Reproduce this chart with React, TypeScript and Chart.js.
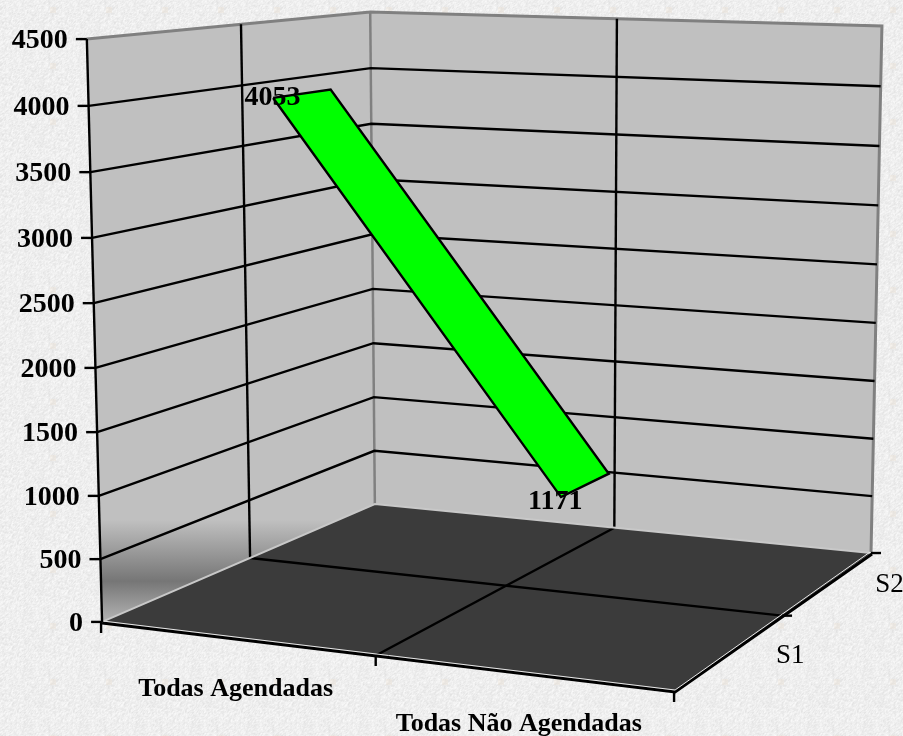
import React, { useEffect, useRef } from "react";
import { Chart, registerables } from "chart.js";

Chart.register(...registerables);

const W = 903;
const H = 736;

// ---- data ----
const categories = ["Todas Agendadas", "Todas Não Agendadas"];
const seriesNames = ["S1", "S2"];
const s1Values = [4053, 1171];
const valueTicks = [0, 500, 1000, 1500, 2000, 2500, 3000, 3500, 4000, 4500];

// ---- the 3D frame: how the corners of the box (category, value, depth) sit on the page ----
const VMAX = 4500;
const NU = categories.length;
const NW = seriesNames.length;
const frameFrom = [
  [0, 0, 0], [NU, 0, 0], [NU, 0, NW], [0, 0, NW],
  [0, VMAX, 0], [0, VMAX, NW], [NU, VMAX, NW],
];
const frameTo = [
  [102, 622], [675, 691], [871, 553], [375, 504],
  [87, 39], [370, 12], [882, 26],
];
const ribbonHalfDepth = 0.2;

function solve(A: number[][], b: number[]) {
  const n = b.length;
  const M = A.map((r, i) => [...r, b[i]]);
  for (let c = 0; c < n; c++) {
    let p = c;
    for (let r = c + 1; r < n; r++) if (Math.abs(M[r][c]) > Math.abs(M[p][c])) p = r;
    [M[c], M[p]] = [M[p], M[c]];
    for (let r = 0; r < n; r++) {
      if (r === c) continue;
      const f = M[r][c] / M[c][c];
      for (let k = c; k <= n; k++) M[r][k] -= f * M[c][k];
    }
  }
  return M.map((r, i) => r[n] / r[i]);
}

function fitCamera() {
  const rows: number[][] = [];
  const rhs: number[] = [];
  frameFrom.forEach(([a, b, c], i) => {
    const X = a / NU, Y = b / VMAX, Z = c / NW;
    const [x, y] = frameTo[i];
    const sx = x / 500, sy = y / 500;
    rows.push([X, Y, Z, 1, 0, 0, 0, 0, -sx * X, -sx * Y, -sx * Z]);
    rhs.push(sx);
    rows.push([0, 0, 0, 0, X, Y, Z, 1, -sy * X, -sy * Y, -sy * Z]);
    rhs.push(sy);
  });
  const n = 11;
  const ATA = Array.from({ length: n }, (_, i) =>
    Array.from({ length: n }, (_, j) => rows.reduce((s, r) => s + r[i] * r[j], 0))
  );
  const ATb = Array.from({ length: n }, (_, i) => rows.reduce((s, r, k) => s + r[i] * rhs[k], 0));
  return solve(ATA, ATb);
}

const cam = fitCamera();

function project(cat: number, value: number, depth: number) {
  const X = cat / NU, Y = value / VMAX, Z = depth / NW;
  const d = cam[8] * X + cam[9] * Y + cam[10] * Z + 1;
  return {
    x: (500 * (cam[0] * X + cam[1] * Y + cam[2] * Z + cam[3])) / d,
    y: (500 * (cam[4] * X + cam[5] * Y + cam[6] * Z + cam[7])) / d,
  };
}

type Pt = { x: number; y: number };

function poly(points: Pt[], fillColor: any) {
  return {
    data: points,
    showLine: true,
    fill: "shape",
    backgroundColor: fillColor,
    borderColor: "rgba(0,0,0,0)",
    borderWidth: 0,
    pointRadius: 0,
    tension: 0,
  };
}
function line(points: Pt[], color: string, width: number) {
  return {
    data: points,
    showLine: true,
    fill: false,
    borderColor: color,
    borderWidth: width,
    pointRadius: 0,
    tension: 0,
  };
}
const off = (p: Pt, dx: number, dy: number) => ({ x: p.x + dx, y: p.y + dy });

function wallGradient(ctx: any) {
  const chart = ctx.chart;
  const k = chart.height / H;
  const g = chart.ctx.createLinearGradient(0, 520 * k, 0, 622 * k);
  g.addColorStop(0, "#c0c0c0");
  g.addColorStop(0.6, "#767676");
  g.addColorStop(1, "#b4b4b4");
  return g;
}

function buildDatasets() {
  const ds: any[] = [];
  const GRID = 2.4;
  // walls and floor
  ds.push(poly([project(0, 0, 0), project(0, 0, NW), project(0, VMAX, NW), project(0, VMAX, 0)], wallGradient));
  ds.push(poly([project(0, 0, NW), project(NU, 0, NW), project(NU, VMAX, NW), project(0, VMAX, NW)], "#c0c0c0"));
  ds.push(poly([project(0, 0, 0), project(NU, 0, 0), project(NU, 0, NW), project(0, 0, NW)], "#3b3b3b"));
  // frame edges in grey
  ds.push(line([project(0, VMAX, 0), project(0, VMAX, NW), project(NU, VMAX, NW), project(NU, 0, NW)], "#808080", 3));
  ds.push(line([project(0, VMAX, NW), project(0, 0, NW)], "#808080", 2.5));
  // walls' value grid
  valueTicks.filter((v) => v > 0 && v < VMAX).forEach((v) => {
    ds.push(line([project(0, v, 0), project(0, v, NW), project(NU, v, NW)], "#000000", GRID));
  });
  // vertical grid on the walls
  ds.push(line([project(0, 0, 1), project(0, VMAX, 1)], "#000000", GRID));
  ds.push(line([project(1, 0, NW), project(1, VMAX, NW)], "#000000", GRID));
  // floor grid
  ds.push(line([project(0, 0, 1), project(NU, 0, 1)], "#000000", GRID));
  ds.push(line([project(1, 0, 0), project(1, 0, NW)], "#000000", GRID));
  // floor edges
  ds.push(line([project(0, 0, 0), project(0, 0, NW), project(NU, 0, NW)], "#c8c8c8", 2));
  ds.push(line([off(project(0, 0, 0), 0, 1), off(project(NU, 0, 0), 0, 1), off(project(NU, 0, NW), 1, 1)], "#000000", 3));
  ds.push(line([off(project(0, 0, 0), 0, -1), off(project(NU, 0, 0), 0, -1), off(project(NU, 0, NW), -1, -1)], "#e8e8e8", 1));
  // left axis
  ds.push(line([project(0, VMAX, 0), project(0, 0, 0)], "#000000", 2.4));
  // ticks
  valueTicks.forEach((v) => {
    const p = project(0, v, 0);
    ds.push(line([p, off(p, -11, 0)], "#000000", 2.4));
  });
  categories.concat("").forEach((_, i) => {
    const p = project(i, 0, 0);
    ds.push(line([off(p, -1, 0), off(p, -1, 11)], "#000000", 2.4));
  });
  seriesNames.forEach((_, i) => {
    const p = project(NU, 0, i + 1);
    ds.push(line([p, off(p, 10, 0)], "#000000", 2.4));
  });
  // the series ribbon (S1 sits in the middle of its depth band)
  const seg: Pt[] = [
    project(0.5, s1Values[0], 0.5 - ribbonHalfDepth),
    project(0.5, s1Values[0], 0.5 + ribbonHalfDepth),
    project(1.5, s1Values[1], 0.5 + ribbonHalfDepth),
    project(1.5, s1Values[1], 0.5 - ribbonHalfDepth),
  ];
  ds.push(poly(seg, "#00ff00"));
  ds.push(line([seg[0], seg[1], seg[2], seg[3], seg[0]], "#000000", 2.4));
  // keep list order when painting
  ds.forEach((d, i) => (d.order = ds.length - i));
  return ds;
}

// ---- paper texture of the page ----
function makeTile() {
  const size = 56;
  const c = document.createElement("canvas");
  c.width = c.height = size;
  const g = c.getContext("2d")!;
  const img = g.createImageData(size, size);
  let s = 12345;
  const next = () => {
    s = (s * 1103515245 + 12345) & 0x7fffffff;
    return s / 0x7fffffff;
  };
  const raw = Array.from({ length: size * size }, () => next());
  for (let y = 0; y < size; y++) {
    for (let x = 0; x < size; x++) {
      const a = raw[y * size + x];
      const b = raw[y * size + ((x + 1) % size)];
      const d = raw[((y + 1) % size) * size + x];
      const n = 238 + ((a + b + d) / 3 - 0.5) * 26;
      const i = (y * size + x) * 4;
      img.data[i] = n;
      img.data[i + 1] = n;
      img.data[i + 2] = n;
      img.data[i + 3] = 255;
    }
  }
  g.putImageData(img, 0, 0);
  g.fillStyle = "rgba(235,222,205,0.3)";
  g.fillRect(50, 7, 6, 6);
  return c;
}

const pagePlugin = {
  id: "page",
  beforeDraw(chart: any) {
    const { ctx } = chart;
    ctx.save();
    ctx.fillStyle = ctx.createPattern(makeTile(), "repeat");
    ctx.fillRect(0, 0, W, H);
    ctx.restore();
  },
};

const SERIF = '"Liberation Serif", serif';

const labelPlugin = {
  id: "labels3d",
  afterDatasetsDraw(chart: any) {
    const { ctx, scales } = chart;
    const px = (p: Pt) => ({ x: scales.x.getPixelForValue(p.x), y: scales.y.getPixelForValue(p.y) });
    const text = (s: string, p: Pt, align: CanvasTextAlign, font: string) => {
      ctx.font = font;
      ctx.textAlign = align;
      ctx.textBaseline = "middle";
      ctx.fillStyle = "#000";
      ctx.fillText(s, p.x, p.y);
    };
    ctx.save();
    const bold = `bold 28px ${SERIF}`;
    valueTicks.forEach((v) => {
      const p = px(project(0, v, 0));
      text(String(v), { x: p.x - 19, y: p.y + 2 }, "right", bold);
    });
    categories.forEach((c, i) => {
      const p = px(project(i + 0.5, 0, 0));
      const d = i === 0 ? { x: -1, y: 51 } : { x: -4, y: 52 };
      text(c, { x: p.x + d.x, y: p.y + d.y }, "center", `bold 26px ${SERIF}`);
    });
    seriesNames.forEach((n, i) => {
      const p = px(project(NU, 0, i + 0.5));
      text(n, { x: p.x + (i === 0 ? 59 : 61), y: p.y + (i === 0 ? 4 : 2) }, "center", `27px ${SERIF}`);
    });
    s1Values.forEach((v, i) => {
      const p = px(project(i + 0.5, v, 0.5));
      text(String(v), { x: p.x - 30, y: p.y + (i === 0 ? 4 : 17) }, "center", bold);
    });
    ctx.restore();
  },
};

export default function App() {
  const ref = useRef<HTMLCanvasElement>(null);
  useEffect(() => {
    const chart = new Chart(ref.current!, {
      type: "scatter",
      data: { datasets: buildDatasets() },
      options: {
        animation: false,
        responsive: false,
        devicePixelRatio: 1,
        layout: { padding: 0 },
        scales: {
          x: { type: "linear", min: 0, max: W, display: false },
          y: { type: "linear", min: 0, max: H, reverse: true, display: false },
        },
        plugins: { legend: { display: false }, tooltip: { enabled: false }, title: { display: false } },
      },
      plugins: [pagePlugin, labelPlugin],
    } as any);
    return () => chart.destroy();
  }, []);
  return (
    <div style={{ position: "absolute", left: 0, top: 0, width: W, height: H }}>
      <canvas ref={ref} width={W} height={H} style={{ display: "block" }} />
    </div>
  );
}
